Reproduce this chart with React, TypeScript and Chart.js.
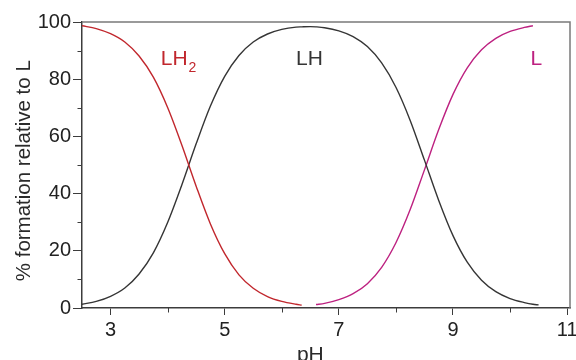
import React, { useEffect, useRef } from "react";
import { Chart, registerables } from "chart.js";

Chart.register(...registerables);

const PH = [2.5, 2.75, 3, 3.25, 3.5, 3.75, 4, 4.25, 4.5, 4.75, 5, 5.25, 5.5, 5.75, 6, 6.25, 6.35, 6.5, 6.6, 6.75, 7, 7.25, 7.5, 7.75, 8, 8.25, 8.5, 8.75, 9, 9.25, 9.5, 9.75, 10, 10.25, 10.4, 10.5];

const LH2 = [98.7, 97.7, 95.9, 93.0, 88.1, 80.7, 70.1, 56.9, 42.6, 29.4, 19.0, 11.6, 6.9, 4.0, 2.3, 1.3, 1.0,
  null, null, null, null, null, null, null, null, null, null, null, null, null, null, null, null, null, null, null];

const LH = [1.3, 2.3, 4.1, 7.0, 11.9, 19.3, 29.9, 43.1, 57.4, 70.6, 81.0, 88.3, 93.0, 95.8, 97.4, 98.2, 98.3, 98.4,
  98.3, 98.0, 96.9, 94.9, 91.4, 85.7, 77.2, 65.6, 51.7, 37.6, 25.3, 16.0, 9.7, 5.7, 3.3, 1.9, 1.3, 1.1];

const L = [null, null, null, null, null, null, null, null, null, null, null, null, null, null, null, null, null, null,
  1.2, 1.6, 2.9, 5.0, 8.5, 14.2, 22.8, 34.4, 48.3, 62.4, 74.7, 84.0, 90.3, 94.3, 96.7, 98.1, 98.7, null];

const X_TICKS = [3, 5, 7, 9, 11];
const X_MINOR = [4, 6, 8, 10];
const Y_TICKS = [0, 20, 40, 60, 80, 100];
const Y_MINOR = [10, 30, 50, 70, 90];

const SERIES_LABELS = ["LH", "LH", "L"];
const X_TITLE = "pH";
const Y_TITLE = "% formation relative to L";

const RED = "#c1272d";
const BLACK = "#353535";
const MAGENTA = "#bd2180";
const AXIS = "#3c3c3c";
const FRAME = "#7a7a7a";
const FONT = "'Liberation Sans', Arial, Helvetica, sans-serif";

function pts(vals: (number | null)[]) {
  const out: { x: number; y: number }[] = [];
  vals.forEach((v, i) => {
    if (v !== null) out.push({ x: PH[i], y: v });
  });
  return out;
}

const decorPlugin = {
  id: "decor",
  afterDraw(chart: any) {
    const ctx = chart.ctx as CanvasRenderingContext2D;
    const { left, right, top, bottom } = chart.chartArea;
    const xs = chart.scales.x;
    const ys = chart.scales.y;
    ctx.save();
    // frame top/right
    ctx.strokeStyle = FRAME;
    ctx.lineWidth = 1.5;
    ctx.beginPath();
    ctx.moveTo(left, top);
    ctx.lineTo(right, top);
    ctx.lineTo(right, bottom);
    ctx.stroke();
    // minor ticks
    ctx.strokeStyle = AXIS;
    ctx.lineWidth = 1;
    ctx.beginPath();
    X_MINOR.forEach((v) => {
      const px = Math.round(xs.getPixelForValue(v)) + 0.5;
      ctx.moveTo(px, bottom);
      ctx.lineTo(px, bottom + 4.5);
    });
    Y_MINOR.forEach((v) => {
      const py = Math.round(ys.getPixelForValue(v)) + 0.5;
      ctx.moveTo(left, py);
      ctx.lineTo(left - 4.5, py);
    });
    ctx.stroke();

    // curve labels
    const by = ys.getPixelForValue(85);
    ctx.textBaseline = "alphabetic";
    ctx.textAlign = "left";
    ctx.font = `21px ${FONT}`;
    ctx.fillStyle = RED;
    const x1 = xs.getPixelForValue(3.88);
    ctx.fillText(SERIES_LABELS[0], x1, by);
    const w1 = ctx.measureText(SERIES_LABELS[0]).width;
    ctx.font = `14px ${FONT}`;
    ctx.fillText("2", x1 + w1 + 1, by + 7);
    ctx.font = `21px ${FONT}`;
    ctx.fillStyle = BLACK;
    ctx.fillText(SERIES_LABELS[1], xs.getPixelForValue(6.25), by);
    ctx.fillStyle = MAGENTA;
    ctx.fillText(SERIES_LABELS[2], xs.getPixelForValue(10.36), by);

    // axis titles
    ctx.fillStyle = "#2a2a2a";
    ctx.font = `21px ${FONT}`;
    ctx.textAlign = "center";
    ctx.fillText(X_TITLE, xs.getPixelForValue(6.5), 361);
    ctx.translate(30, ys.getPixelForValue(48));
    ctx.rotate(-Math.PI / 2);
    ctx.font = `20.5px ${FONT}`;
    ctx.fillText(Y_TITLE, 0, 0);
    ctx.restore();
  },
};

export default function App() {
  const ref = useRef<HTMLCanvasElement | null>(null);
  useEffect(() => {
    if (!ref.current) return;
    const chart = new Chart(ref.current, {
      type: "line",
      data: {
        datasets: [
          { label: "LH2", data: pts(LH2), borderColor: RED },
          { label: "LH", data: pts(LH), borderColor: BLACK },
          { label: "L", data: pts(L), borderColor: MAGENTA },
        ].map((d) => ({
          ...d,
          borderWidth: 1.4,
          pointRadius: 0,
          fill: false,
          cubicInterpolationMode: "monotone" as const,
        })),
      },
      options: {
        animation: false,
        responsive: false,
        maintainAspectRatio: false,
        layout: { padding: { left: 0, right: 6, top: 22, bottom: 0 } },
        plugins: { legend: { display: false }, tooltip: { enabled: false }, title: { display: false } },
        scales: {
          x: {
            type: "linear",
            min: 2.5,
            max: 11.05,
            afterBuildTicks: (s: any) => {
              s.ticks = X_TICKS.map((v) => ({ value: v }));
            },
            afterFit: (s: any) => {
              s.height = 52;
              s.paddingLeft = 0;
              s.paddingRight = 0;
            },
            grid: { display: true, drawOnChartArea: false, drawTicks: true, tickLength: 7, color: AXIS, lineWidth: 1 },
            border: { display: true, color: AXIS, width: 1.5 },
            ticks: { color: "#222", font: { size: 20, family: FONT }, padding: 3, maxRotation: 0, autoSkip: false },
          },
          y: {
            type: "linear",
            min: 0,
            max: 100,
            afterBuildTicks: (s: any) => {
              s.ticks = Y_TICKS.map((v) => ({ value: v }));
            },
            afterFit: (s: any) => {
              s.width = 82;
              s.paddingTop = 0;
              s.paddingBottom = 0;
            },
            grid: { display: true, drawOnChartArea: false, drawTicks: true, tickLength: 9, color: AXIS, lineWidth: 1 },
            border: { display: true, color: AXIS, width: 1.5 },
            ticks: { color: "#222", font: { size: 20, family: FONT }, padding: 2, autoSkip: false },
          },
        },
      },
      plugins: [decorPlugin],
    });
    return () => chart.destroy();
  }, []);
  return (
    <div style={{ position: "fixed", left: 0, top: 0, width: 576, height: 360, background: "#fff" }}>
      <canvas ref={ref} width={576} height={360} style={{ width: 576, height: 360, display: "block" }} />
    </div>
  );
}
